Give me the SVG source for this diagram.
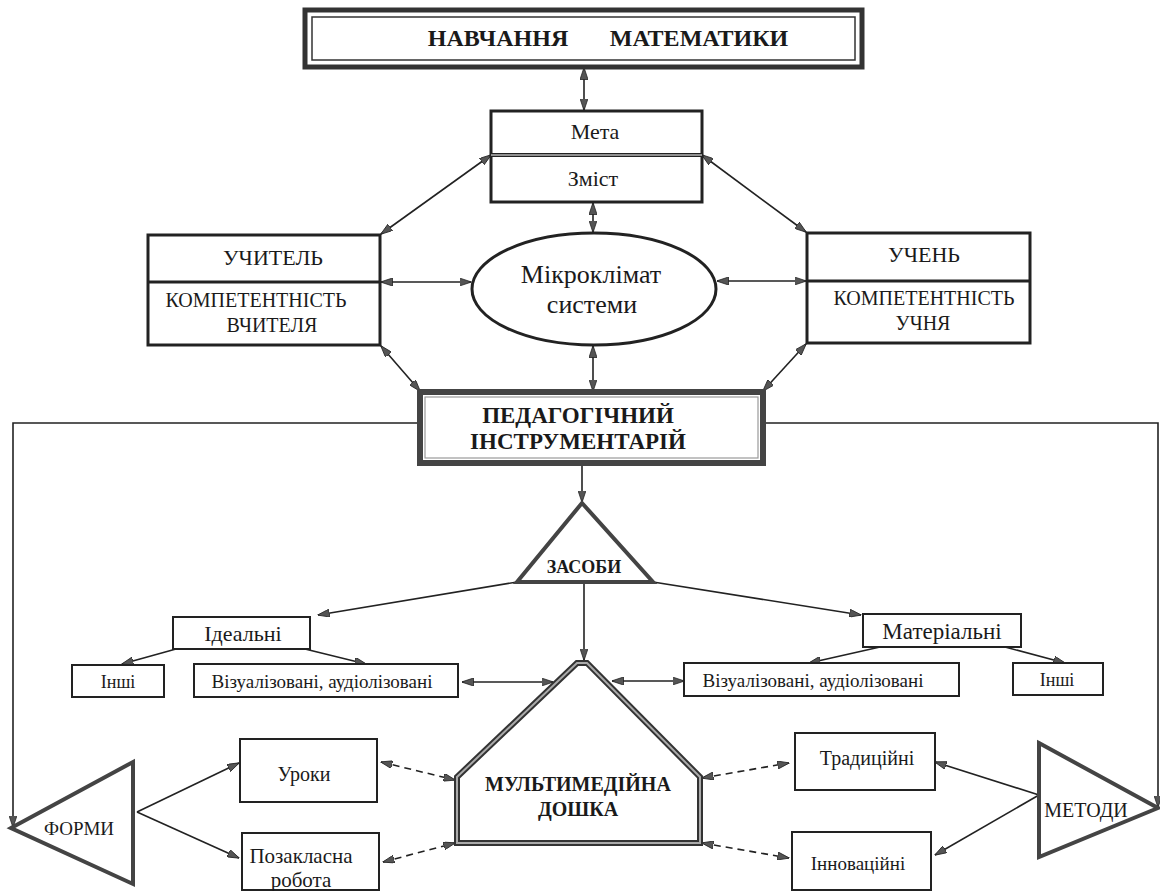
<svg xmlns="http://www.w3.org/2000/svg" width="1160" height="891" viewBox="0 0 1160 891" font-family="Liberation Serif, serif">
<defs>
<style>
text{fill:#1a1a1a;text-anchor:middle}
.b{font-weight:bold}
.box{fill:#fff;stroke:#222;stroke-width:2}
.box3{fill:#fff;stroke:#222;stroke-width:3}
.tri{fill:#fff;stroke:#444;stroke-width:4;stroke-linejoin:miter}
.c{fill:none;stroke:#222;stroke-width:1.6}
.d{fill:none;stroke:#222;stroke-width:1.6;stroke-dasharray:7 5}
</style>
<marker id="ah" viewBox="0 0 12 8" markerWidth="12" markerHeight="8" refX="11.5" refY="4" orient="auto-start-reverse" markerUnits="userSpaceOnUse">
<path d="M0,0 L12,4 L0,8 z" fill="#555" stroke="#222" stroke-width="0.8"/>
</marker>
</defs>
<rect width="1160" height="891" fill="#fff"/>

<g id="connectors">
<line class="c" x1="584" y1="68" x2="584" y2="110" marker-start="url(#ah)" marker-end="url(#ah)"/>
<line class="c" x1="491" y1="155" x2="381" y2="234" marker-start="url(#ah)" marker-end="url(#ah)"/>
<line class="c" x1="702" y1="155" x2="806" y2="232" marker-start="url(#ah)" marker-end="url(#ah)"/>
<line class="c" x1="593" y1="203" x2="593" y2="232" marker-start="url(#ah)" marker-end="url(#ah)"/>
<line class="c" x1="381" y1="282" x2="471" y2="282" marker-start="url(#ah)" marker-end="url(#ah)"/>
<line class="c" x1="717" y1="281" x2="806" y2="281" marker-start="url(#ah)" marker-end="url(#ah)"/>
<line class="c" x1="593" y1="346" x2="593" y2="391" marker-start="url(#ah)" marker-end="url(#ah)"/>
<line class="c" x1="381" y1="346" x2="420" y2="391" marker-start="url(#ah)" marker-end="url(#ah)"/>
<line class="c" x1="806" y1="344" x2="763" y2="391" marker-start="url(#ah)" marker-end="url(#ah)"/>
<line class="c" x1="582" y1="464" x2="582" y2="502" marker-end="url(#ah)"/>
<polyline class="c" points="420,423 13,423 13,827" marker-end="url(#ah)"/>
<polyline class="c" points="763,423 1158,423 1158,807" marker-end="url(#ah)"/>
<line class="c" x1="517" y1="582" x2="318" y2="615" marker-end="url(#ah)"/>
<line class="c" x1="653" y1="582" x2="861" y2="615" marker-end="url(#ah)"/>
<line class="c" x1="584" y1="583" x2="584" y2="660" marker-end="url(#ah)"/>
<line class="c" x1="176" y1="649" x2="122" y2="664" marker-end="url(#ah)"/>
<line class="c" x1="305" y1="649" x2="366" y2="664" marker-end="url(#ah)"/>
<line class="c" x1="880" y1="647" x2="809" y2="663" marker-end="url(#ah)"/>
<line class="c" x1="1005" y1="647" x2="1065" y2="663" marker-end="url(#ah)"/>
<line class="c" x1="462" y1="682" x2="553" y2="682" marker-start="url(#ah)" marker-end="url(#ah)"/>
<line class="c" x1="612" y1="681" x2="684" y2="681" marker-start="url(#ah)" marker-end="url(#ah)"/>
<line class="c" x1="137" y1="812" x2="239" y2="763" marker-end="url(#ah)"/>
<line class="c" x1="137" y1="812" x2="239" y2="858" marker-end="url(#ah)"/>
<line class="d" x1="381" y1="762" x2="455" y2="780" marker-start="url(#ah)" marker-end="url(#ah)"/>
<line class="d" x1="383" y1="862" x2="455" y2="843" marker-start="url(#ah)" marker-end="url(#ah)"/>
<line class="d" x1="702" y1="778" x2="789" y2="763" marker-start="url(#ah)" marker-end="url(#ah)"/>
<line class="d" x1="702" y1="843" x2="789" y2="858" marker-start="url(#ah)" marker-end="url(#ah)"/>
<line class="c" x1="1039" y1="795" x2="935" y2="762" marker-end="url(#ah)"/>
<line class="c" x1="1039" y1="795" x2="935" y2="855" marker-end="url(#ah)"/>
</g>

<g id="title">
<rect x="305" y="10" width="557" height="57" fill="#fff" stroke="#333" stroke-width="5"/>
<rect x="312" y="17" width="543" height="43" fill="none" stroke="#333" stroke-width="1.5"/>
<text class="b" x="498" y="46" font-size="24">НАВЧАННЯ<tspan x="699">МАТЕМАТИКИ</tspan></text>
</g>

<g id="meta">
<rect class="box3" x="491" y="111" width="211" height="91"/>
<line x1="491" y1="155" x2="702" y2="155" stroke="#222" stroke-width="4"/>
<line x1="491" y1="155" x2="702" y2="155" stroke="#fff" stroke-width="1"/>
<text x="595" y="139" font-size="22">Мета</text>
<text x="593" y="186" font-size="22">Зміст</text>
</g>

<g id="uchytel">
<rect class="box3" x="148" y="235" width="232" height="110"/>
<line x1="148" y1="282" x2="380" y2="282" stroke="#222" stroke-width="3"/>
<text x="273" y="265" font-size="22">УЧИТЕЛЬ</text>
<text x="256" y="307" font-size="20">КОМПЕТЕНТНІСТЬ</text>
<text x="272" y="332" font-size="20">ВЧИТЕЛЯ</text>
</g>

<g id="uchen">
<rect class="box3" x="807" y="233" width="223" height="110"/>
<line x1="807" y1="281" x2="1030" y2="281" stroke="#222" stroke-width="3"/>
<text x="924" y="262" font-size="22">УЧЕНЬ</text>
<text x="924" y="305" font-size="20">КОМПЕТЕНТНІСТЬ</text>
<text x="923" y="330" font-size="20">УЧНЯ</text>
</g>

<g id="mikroklimat">
<ellipse cx="594" cy="289" rx="122" ry="56" fill="#fff" stroke="#222" stroke-width="3"/>
<text x="591" y="283" font-size="26">Мікроклімат</text>
<text x="592" y="313" font-size="26">системи</text>
</g>

<g id="pedinstr">
<rect x="420" y="392" width="343" height="71" fill="#fff" stroke="#444" stroke-width="6"/>
<rect x="425" y="397" width="333" height="61" fill="none" stroke="#999" stroke-width="1.2"/>
<text class="b" x="578" y="423" font-size="23">ПЕДАГОГІЧНИЙ</text>
<text class="b" x="578" y="449" font-size="23">ІНСТРУМЕНТАРІЙ</text>
</g>

<g id="zasoby">
<polygon class="tri" points="582,503 653,582 517,582"/>
<text class="b" x="584" y="573" font-size="18">ЗАСОБИ</text>
</g>

<g id="idealni">
<rect class="box" x="173" y="617" width="137" height="32"/>
<text x="243" y="641" font-size="22">Ідеальні</text>
</g>
<g id="inshi-left">
<rect class="box" x="72" y="665" width="92" height="32"/>
<text x="118" y="688" font-size="18">Інші</text>
</g>
<g id="vizual-left">
<rect class="box" x="194" y="664" width="264" height="33"/>
<text x="322" y="688" font-size="19">Візуалізовані, аудіолізовані</text>
</g>

<g id="materialni">
<rect class="box" x="863" y="614" width="158" height="33"/>
<text x="942" y="639" font-size="23">Матеріальні</text>
</g>
<g id="vizual-right">
<rect class="box" x="684" y="663" width="275" height="33"/>
<text x="813" y="687" font-size="19">Візуалізовані, аудіолізовані</text>
</g>
<g id="inshi-right">
<rect class="box" x="1013" y="663" width="90" height="32"/>
<text x="1057" y="686" font-size="18">Інші</text>
</g>

<g id="doshka">
<polygon points="577,663 587,663 700,777 700,843 457,843 457,777" fill="#fff" stroke="#333" stroke-width="6" stroke-linejoin="miter"/>
<polygon points="577,663 587,663 700,777 700,843 457,843 457,777" fill="none" stroke="#aaa" stroke-width="2" stroke-linejoin="miter"/>
<text class="b" x="578" y="791" font-size="20">МУЛЬТИМЕДІЙНА</text>
<text class="b" x="578" y="816" font-size="20">ДОШКА</text>
</g>

<g id="formy">
<polygon class="tri" points="11,828 133,762 133,884"/>
<text x="79" y="835" font-size="19">ФОРМИ</text>
</g>
<g id="uroky">
<rect class="box" x="240" y="739" width="137" height="63"/>
<text x="304" y="781" font-size="20">Уроки</text>
</g>
<g id="pozaklasna">
<rect class="box" x="242" y="833" width="137" height="57"/>
<text x="301" y="863" font-size="21">Позакласна</text>
<text x="301" y="887" font-size="21">робота</text>
</g>

<g id="metody">
<polygon class="tri" points="1039,743 1158,808 1039,857"/>
<text x="1086" y="817" font-size="20">МЕТОДИ</text>
</g>
<g id="tradytsiini">
<rect class="box" x="795" y="733" width="140" height="57"/>
<text x="867" y="765" font-size="20">Традиційні</text>
</g>
<g id="innovatsiini">
<rect class="box" x="792" y="832" width="139" height="58"/>
<text x="858" y="870" font-size="19">Інноваційні</text>
</g>
</svg>
